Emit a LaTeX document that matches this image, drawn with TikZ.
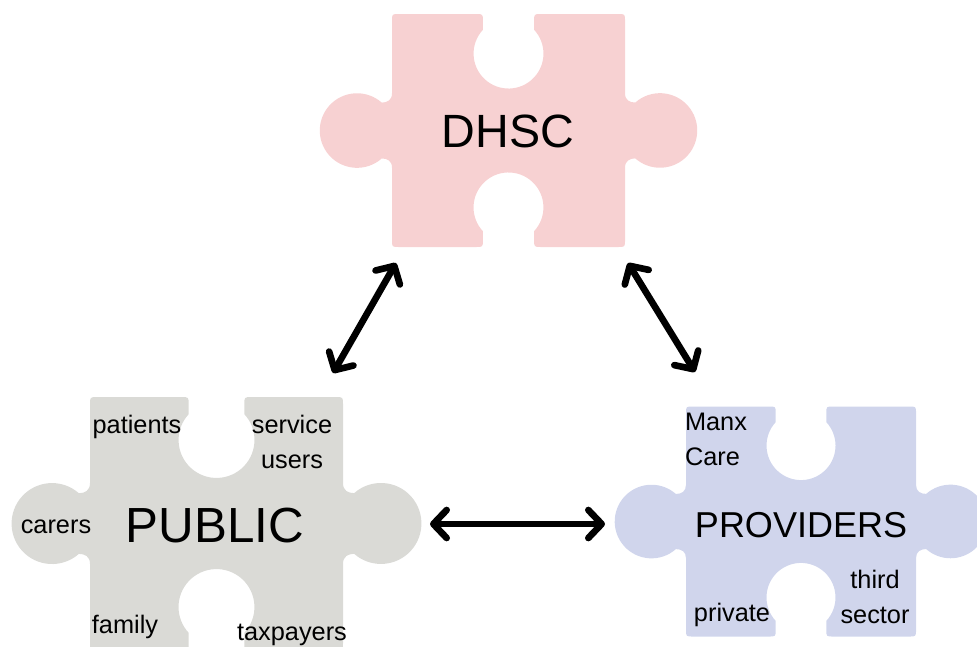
\documentclass[tikz,border=0pt]{standalone}
\usepackage{fontspec}
\setmainfont{Liberation Sans}
\usetikzlibrary{arrows.meta}

\definecolor{dhscpink}{HTML}{F7D1D2}
\definecolor{publicgrey}{HTML}{DADAD6}
\definecolor{providerblue}{HTML}{D0D5EC}

% one jigsaw piece, body 100 x 100 round the origin (y down)
\newcommand{\jigsaw}[3]{%
\fill[#3, shift={#1}, scale=#2]
 (-47,-50) -- (-14,-50) .. controls (-11,-50) .. (-11,-47)
 -- (-11,-43.2) arc (222.8:-42.8:15)
 -- (11,-47) .. controls (11,-50) .. (14,-50)
 -- (47,-50) .. controls (50,-50) .. (50,-47)
 -- (50,-16) .. controls (50,-13) and (52,-12) .. (54.4,-12)
 arc (228.5:491.5:16)
 .. controls (52,12) and (50,13) .. (50,16)
 -- (50,47) .. controls (50,50) .. (47,50)
 -- (14,50) .. controls (11,50) .. (11,47)
 -- (11,43.2) arc (42.8:-222.8:15)
 -- (-11,47) .. controls (-11,50) .. (-14,50)
 -- (-47,50) .. controls (-50,50) .. (-50,47)
 -- (-50,16) .. controls (-50,13) and (-52,12) .. (-54.4,12)
 arc (48.5:311.5:16)
 .. controls (-52,-12) and (-50,-13) .. (-50,-16)
 -- (-50,-47) .. controls (-50,-50) .. (-47,-50) -- cycle;}

\tikzset{
  title/.style={inner sep=0pt, anchor=base},
  tag/.style={inner sep=0pt, anchor=base, font=\fontsize{19}{26}\selectfont},
  link/.style={line width=5pt, line cap=round,
    >={Straight Barb[length=10pt,width=21pt,round]}, <->},
}

\begin{document}
\begin{tikzpicture}[x=0.75pt,y=-0.75pt]
\useasboundingbox (0,0) rectangle (977,646);

\jigsaw{(508.5,130.5)}{2.33}{dhscpink}
\jigsaw{(216.5,523.5)}{2.53}{publicgrey}
\jigsaw{(801,521.5)}{2.3}{providerblue}

% main names
\node[title, font=\fontsize{35}{42}\selectfont] (dhsc) at (508,147) {DHSC};
\node[title, font=\fontsize{37}{44}\selectfont] (public) at (215,542) {PUBLIC};
\node[title, font=\fontsize{27}{32}\selectfont] (providers) at (801,537) {PROVIDERS};

% who is in the public (two-line tags sit on their last line)
\node[tag] (patients) at (137,433) {patients};
\node[tag, align=center] (service) at (292,468) {service\\users};
\node[tag] (carers) at (56,533) {carers};
\node[tag] (family) at (125,633) {family};
\node[tag] (taxpayers) at (292,640) {taxpayers};

% who provides
\node[tag, align=left] (manx) at (716,465) {Manx\\Care};
\node[tag] (private) at (732,621) {private};
\node[tag, align=center] (third) at (875,623) {third\\sector};

% arrow ends
\coordinate (dhsc-sw) at (396,263);
\coordinate (dhsc-se) at (628,263);
\coordinate (public-ne) at (333,373);
\coordinate (public-e) at (430,524);
\coordinate (providers-nw) at (695,372);
\coordinate (providers-w) at (605,524);

\draw[link] (public-ne) -- (dhsc-sw);
\draw[link] (dhsc-se) -- (providers-nw);
\draw[link] (public-e) -- (providers-w);
\end{tikzpicture}
\end{document}
